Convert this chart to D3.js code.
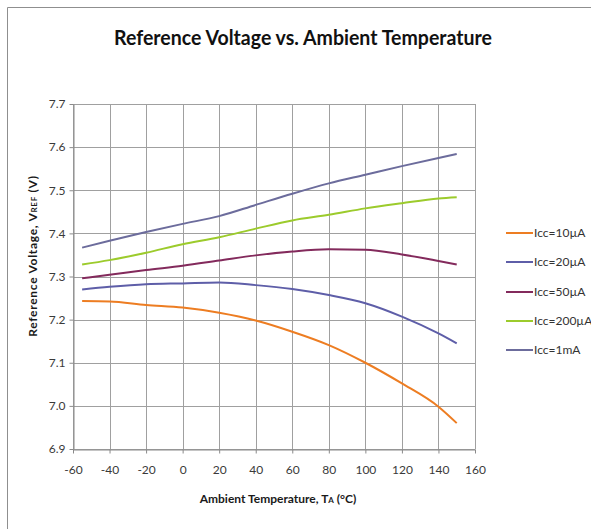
<!DOCTYPE html>
<html>
<head>
<meta charset="utf-8">
<script src="https://cdn.jsdelivr.net/npm/d3@7"></script>
<style>
  html, body { margin: 0; padding: 0; background: #fff; }
  svg { display: block; font-family: Lato, "Open Sans", sans-serif; }
</style>
</head>
<body>
<svg id="chart" width="591" height="529"></svg>
<script>
// Ambient temperature sample points (°C)
const temps = [-55, -40, -20, 0, 20, 40, 60, 80, 100, 120, 140, 150];

// Reference voltage (V) for each supply current
const icc10uA  = [7.243, 7.242, 7.234, 7.228, 7.216, 7.198, 7.172, 7.141, 7.100, 7.052, 6.998, 6.960];
const icc20uA  = [7.270, 7.276, 7.282, 7.284, 7.286, 7.280, 7.271, 7.257, 7.238, 7.207, 7.168, 7.145];
const icc50uA  = [7.296, 7.304, 7.315, 7.325, 7.337, 7.349, 7.358, 7.363, 7.362, 7.351, 7.336, 7.328];
const icc200uA = [7.328, 7.338, 7.355, 7.375, 7.391, 7.411, 7.430, 7.443, 7.458, 7.470, 7.481, 7.484];
const icc1mA   = [7.367, 7.383, 7.403, 7.422, 7.440, 7.466, 7.492, 7.516, 7.536, 7.556, 7.575, 7.584];

const seriesNames = ["Icc=10µA", "Icc=20µA", "Icc=50µA", "Icc=200µA", "Icc=1mA"];
const seriesValues = [icc10uA, icc20uA, icc50uA, icc200uA, icc1mA];
const seriesColors = ["#ED7D22", "#5E5EA8", "#832A5C", "#9CCB2C", "#6C6C9C"];

const xTicks = [-60, -40, -20, 0, 20, 40, 60, 80, 100, 120, 140, 160];
const yTicks = [6.9, 7.0, 7.1, 7.2, 7.3, 7.4, 7.5, 7.6, 7.7];

const svg = d3.select("#chart");

// outer chart frame (runs off the right and bottom edges)
svg.append("path")
  .attr("d", "M7.5,529 V7.5 H591")
  .attr("fill", "none")
  .attr("stroke", "#8f8f8f")
  .attr("stroke-width", 1);

const plot = { left: 73, right: 475, top: 104, bottom: 449 };

const x = d3.scaleLinear().domain([-60, 160]).range([plot.left, plot.right]);
const y = d3.scaleLinear().domain([6.9, 7.7]).range([plot.bottom, plot.top]);

const gridColor = "#a0a0a0";

// horizontal gridlines
svg.append("g")
  .selectAll("line")
  .data(yTicks)
  .join("line")
  .attr("x1", plot.left).attr("x2", plot.right)
  .attr("y1", d => Math.round(y(d)) + 0.5).attr("y2", d => Math.round(y(d)) + 0.5)
  .attr("stroke", gridColor).attr("stroke-width", 1);

// vertical gridlines
svg.append("g")
  .selectAll("line")
  .data(xTicks)
  .join("line")
  .attr("x1", d => Math.round(x(d)) + 0.5).attr("x2", d => Math.round(x(d)) + 0.5)
  .attr("y1", plot.top).attr("y2", plot.bottom)
  .attr("stroke", gridColor).attr("stroke-width", 1);

// axes (plain hyphen-minus for negative labels)
const xAxis = svg.append("g")
  .attr("transform", `translate(0,${Math.round(y(6.9)) + 0.5})`)
  .call(d3.axisBottom(x).tickValues(xTicks).tickSize(4).tickSizeOuter(0).tickFormat(d => String(d)));
const yAxis = svg.append("g")
  .attr("transform", `translate(${Math.round(x(-60)) + 0.5},0)`)
  .call(d3.axisLeft(y).tickValues(yTicks).tickSize(4).tickSizeOuter(0).tickFormat(d => d.toFixed(1)));

[xAxis, yAxis].forEach(g => {
  g.select(".domain").attr("stroke", "#8a8a8a");
  g.selectAll(".tick line").attr("stroke", "#8a8a8a");
  g.selectAll(".tick text")
    .attr("fill", "#3a3a3a")
    .style("font-family", "Lato, sans-serif")
    .style("font-size", "12px");
});
xAxis.selectAll(".tick text").attr("dy", "1.45em");
yAxis.selectAll(".tick text").attr("x", -8);

// series lines
const line = d3.line()
  .x((d, i) => x(temps[i]))
  .y(d => y(d))
  .curve(d3.curveMonotoneX);

svg.append("g")
  .selectAll("path")
  .data(seriesValues)
  .join("path")
  .attr("d", d => line(d))
  .attr("fill", "none")
  .attr("stroke", (d, i) => seriesColors[i])
  .attr("stroke-width", 2)
  .attr("stroke-linejoin", "round");

// title
svg.append("text")
  .attr("x", 303).attr("y", 45)
  .attr("text-anchor", "middle")
  .attr("textLength", 378).attr("lengthAdjust", "spacingAndGlyphs")
  .style("font-family", "Lato, sans-serif")
  .style("font-weight", "bold")
  .style("font-size", "21px")
  .attr("fill", "#111")
  .text("Reference Voltage vs. Ambient Temperature");

// x axis title with subscript
const xt = svg.append("text")
  .attr("x", 278).attr("y", 503)
  .attr("text-anchor", "middle")
  .style("font-family", "Lato, sans-serif")
  .style("font-weight", "bold")
  .style("font-size", "12px")
  .attr("fill", "#1a1a1a");
xt.append("tspan").text("Ambient Temperature, T");
xt.append("tspan").attr("font-size", "8px").text("A");
xt.append("tspan").text(" (°C)");

// y axis title with subscript
const yt = svg.append("text")
  .attr("transform", "translate(37,256) rotate(-90)")
  .attr("text-anchor", "middle")
  .style("font-family", "Lato, sans-serif")
  .style("font-weight", "bold")
  .style("font-size", "12px")
  .style("letter-spacing", "0.7px")
  .attr("fill", "#1a1a1a");
yt.append("tspan").text("Reference Voltage, V");
yt.append("tspan").attr("font-size", "8px").text("REF");
yt.append("tspan").text(" (V)");

// legend
const legend = svg.append("g");
const legendY = [233, 262, 292, 321, 350];
const items = legend.selectAll("g")
  .data(seriesNames)
  .join("g")
  .attr("transform", (d, i) => `translate(506,${legendY[i]})`);
items.append("line")
  .attr("x1", 0).attr("x2", 27)
  .attr("stroke", (d, i) => seriesColors[i])
  .attr("stroke-width", 2);
items.append("text")
  .attr("x", 28).attr("dy", "0.35em")
  .style("font-family", "Lato, sans-serif")
  .style("font-size", "12px")
  .attr("fill", "#333")
  .text(d => d);
</script>
</body>
</html>
